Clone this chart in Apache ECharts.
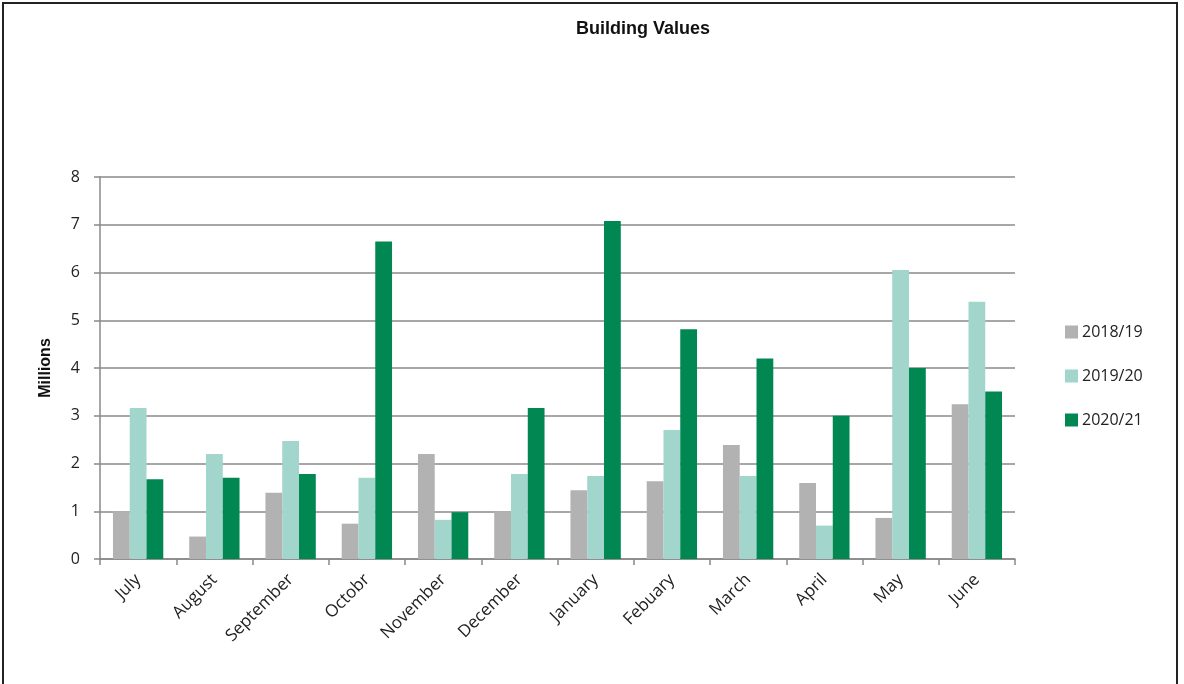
<!DOCTYPE html>
<html>
<head>
<meta charset="utf-8">
<script src="https://cdn.jsdelivr.net/npm/echarts@6/dist/echarts.min.js"></script>
<style>
  html, body { margin: 0; padding: 0; background: #fff; }
  #chart { position: absolute; left: 2px; top: 2px; width: 1176px; height: 684px; border: 2px solid #222; border-bottom: none; box-sizing: border-box; }
</style>
</head>
<body>
<div id="chart"></div>
<script>
const months = ['July', 'August', 'September', 'Octobr', 'November', 'December', 'January', 'Febuary', 'March', 'April', 'May', 'June']
const values1819 = [1.0, 0.47, 1.39, 0.74, 2.2, 1.0, 1.44, 1.63, 2.39, 1.59, 0.86, 3.24]
const values1920 = [3.16, 2.2, 2.47, 1.7, 0.82, 1.78, 1.74, 2.7, 1.74, 0.7, 6.05, 5.39]
const values2021 = [1.67, 1.7, 1.78, 6.65, 0.98, 3.16, 7.08, 4.81, 4.2, 3.0, 4.0, 3.51]
const seriesNames = ['2018/19', '2019/20', '2020/21']

const chart = echarts.init(document.getElementById('chart'))

const labelFont = "'Open Sans', 'Liberation Sans', sans-serif"

chart.setOption({
  animation: false,
  title: {
    text: 'Building Values',
    left: 634,
    top: 11,
    textAlign: 'center',
    textStyle: { fontFamily: 'Liberation Sans', fontWeight: 'bold', fontSize: 18, color: '#111' }
  },
  legend: {
    orient: 'vertical',
    left: 1056,
    top: 315,
    itemGap: 28,
    itemWidth: 13,
    itemHeight: 13,
    icon: 'rect',
    data: seriesNames,
    textStyle: { fontFamily: labelFont, fontSize: 16, color: '#222', padding: [0, 0, 0, -1] }
  },
  grid: {
    left: 96,
    right: 161,
    top: 173,
    bottom: 127
  },
  xAxis: {
    type: 'category',
    data: months,
    axisLine: { lineStyle: { color: '#888', width: 1.5 } },
    axisTick: { show: true, length: 6, lineStyle: { color: '#888', width: 1.5 } },
    axisLabel: { rotate: 45, fontFamily: labelFont, fontSize: 17, color: '#222', margin: 18 }
  },
  yAxis: {
    type: 'value',
    min: 0,
    max: 8,
    interval: 1,
    name: 'Millions',
    nameLocation: 'middle',
    nameGap: 46,
    nameTextStyle: { fontFamily: 'Liberation Sans', fontWeight: 'bold', fontSize: 16, color: '#111' },
    axisLine: { show: true, lineStyle: { color: '#888', width: 1.5 } },
    axisTick: { show: true, length: 6, lineStyle: { color: '#888', width: 1.5 } },
    axisLabel: { fontFamily: labelFont, fontSize: 16, color: '#222', margin: 20 },
    splitLine: { lineStyle: { color: '#8a8a8a', width: 1.5 } }
  },
  series: [{
    name: seriesNames[0],
    type: 'bar',
    data: values1819,
    barGap: '0%',
    barCategoryGap: '34%',
    itemStyle: { color: '#b2b2b2' }
  }, {
    name: seriesNames[1],
    type: 'bar',
    data: values1920,
    barGap: '0%',
    barCategoryGap: '34%',
    itemStyle: { color: '#a2d5cb' }
  }, {
    name: seriesNames[2],
    type: 'bar',
    data: values2021,
    barGap: '0%',
    barCategoryGap: '34%',
    itemStyle: { color: '#008752' }
  }]
})
</script>
</body>
</html>
